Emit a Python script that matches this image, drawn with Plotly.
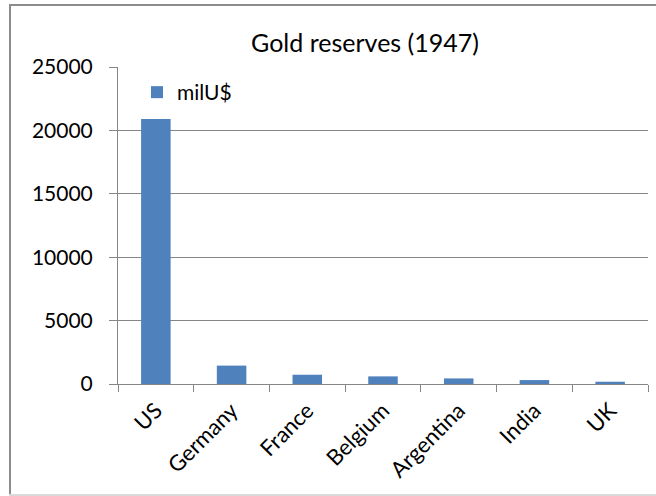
import plotly.graph_objects as go

countries = ["US", "Germany", "France", "Belgium", "Argentina", "India", "UK"]
gold_mil_usd = [20900, 1450, 730, 600, 440, 310, 180]
series_name = "milU$"
title_text = "Gold reserves (1947)"
y_ticks = [0, 5000, 10000, 15000, 20000, 25000]

W, H = 656, 496
L, R, T, B = 118, 8, 67, 112
pw, ph = W - L - R, H - T - B

def px_x(px):
    return (px - L) / pw

def px_y(py):
    return (H - B - py) / ph

FONT = "Lato"
GRAY = "#868686"

fig = go.Figure()
fig.add_trace(go.Bar(
    x=countries, y=gold_mil_usd, name=series_name,
    marker=dict(color="#4F81BD", line=dict(width=0)),
    width=0.39,
))

fig.update_layout(
    width=W, height=H,
    margin=dict(l=L, r=R, t=T, b=B, autoexpand=False),
    paper_bgcolor="white", plot_bgcolor="white",
    font=dict(family=FONT, color="#000000", size=20),
    title=dict(text=title_text, x=365 / W, xanchor="center", xref="container",
               y=1 - 43 / H, yanchor="middle", yref="container",
               font=dict(family=FONT, size=25, color="#000000")),
    showlegend=True,
    legend=dict(x=px_x(137), y=px_y(72), xanchor="left", yanchor="top",
                bgcolor="rgba(0,0,0,0)", font=dict(size=21, family=FONT),
                itemwidth=30, borderwidth=0),
    bargap=0.6,
)

fig.update_yaxes(
    range=[0, 25000], tickvals=y_ticks, ticktext=[str(v) for v in y_ticks],
    showgrid=True, gridcolor=GRAY, gridwidth=1,
    showline=True, linecolor=GRAY, linewidth=1,
    ticks="outside", ticklen=8, tickcolor=GRAY, tickwidth=1,
    ticklabelstandoff=12, zeroline=False,
    tickfont=dict(size=21, family=FONT),
)
fig.update_xaxes(
    showline=True, linecolor=GRAY, linewidth=1,
    ticks="outside", ticklen=7, tickcolor=GRAY, tickwidth=1,
    tickson="boundaries", tickangle=-45, ticklabelstandoff=4,
    tickfont=dict(size=22, family=FONT),
    showgrid=False,
)

# chart border (partly cropped in the reference)
fig.add_shape(type="line", xref="paper", yref="paper",
              x0=px_x(9), x1=px_x(660), y0=px_y(5), y1=px_y(5),
              line=dict(color="#8c8c8c", width=2))
fig.add_shape(type="line", xref="paper", yref="paper",
              x0=px_x(10), x1=px_x(10), y0=px_y(5), y1=px_y(496),
              line=dict(color="#8c8c8c", width=2))
fig.add_shape(type="line", xref="paper", yref="paper",
              x0=px_x(9), x1=px_x(660), y0=px_y(495), y1=px_y(495),
              line=dict(color="#d9d9d9", width=2))

fig.write_html("out.html")
